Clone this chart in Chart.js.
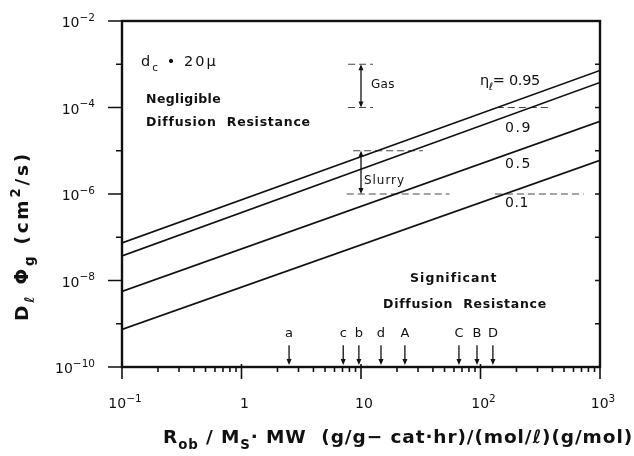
<!DOCTYPE html>
<html>
<head>
<meta charset="utf-8">
<script src="https://cdn.jsdelivr.net/npm/chart.js@4"></script>
<style>
  body { margin: 0; background: #fff; }
</style>
</head>
<body>
<canvas id="chart" width="634" height="456"></canvas>
<script>
// ---- data ----
const xEnds = [0.1, 1000];
const etaLabels = ["0.95", "0.9", "0.5", "0.1"];
const eta095 = [7.4e-8, 7.2e-4];
const eta09 = [3.7e-8, 3.8e-4];
const eta05 = [5.6e-9, 4.8e-5];
const eta01 = [7.4e-10, 6.0e-6];

// catalyst markers on the x axis
const markerLabels = ["a", "c", "b", "d", "A", "C", "B", "D"];
const markerX = [2.5, 7.1, 9.6, 14.7, 23.3, 66, 93.5, 127];

// Gas / Slurry ranges
const bracketLabels = ["Gas", "Slurry"];
const bracketX = [10, 10];
const bracketLow = [1e-4, 1e-6];
const bracketHigh = [1e-3, 1e-5];

// dashed guide lines
const guideY = [1e-3, 1e-4, 1e-4, 1e-5, 1e-6, 1e-6];
const guideFrom = [7.8, 7.8, 137, 8.6, 7.6, 132];
const guideTo = [12.6, 12.6, 380, 33, 55, 730];

// tick labels (^ = superscript)
const xTickValues = [0.1, 1, 10, 100, 1000];
const xTickLabels = ["10^-1", "1", "10", "10^2", "10^3"];
const yTickValues = [1e-2, 1e-4, 1e-6, 1e-8, 1e-10];
const yTickLabels = ["10^-2", "10^-4", "10^-6", "10^-8", "10^-10"];

const ink = "#111";
const FONT = '"DejaVu Sans", sans-serif';

const lines = [eta095, eta09, eta05, eta01].map((vals, i) => ({
    label: "η = " + etaLabels[i],
    data: xEnds.map((x, j) => ({ x: x, y: vals[j] })),
    borderColor: ink,
    borderWidth: 1.6,
    pointRadius: 0,
    tension: 0
}));

const guides = guideY.map((yv, i) => ({
    label: "guide " + i,
    data: [{ x: guideFrom[i], y: yv }, { x: guideTo[i], y: yv }],
    borderColor: "#333",
    borderWidth: 0.9,
    borderDash: [7, 4],
    pointRadius: 0
}));

// rich text: parts = [[text, shift]], shift 0 normal, -1 sub, 1 sup
function partFont(size, weight, s, supScale) {
    return `${weight} ${s ? size * supScale : size}px ${FONT}`;
}
function widthOf(ctx, parts, size, weight, supScale) {
    return parts.reduce((w, [t, s]) => {
        ctx.font = partFont(size, weight, s, supScale);
        return w + ctx.measureText(t).width;
    }, 0);
}
function drawRich(ctx, parts, x, y, size, weight, target, align = "left", supScale = 0.72) {
    ctx.letterSpacing = "0px";
    const n = parts.reduce((c, [t]) => c + t.length, 0);
    const sp = target ? (target - widthOf(ctx, parts, size, weight, supScale)) / n : 0;
    ctx.letterSpacing = sp + "px";
    const w = widthOf(ctx, parts, size, weight, supScale);
    let cx = align === "center" ? x - w / 2 : align === "right" ? x - w : x;
    ctx.textAlign = "left";
    for (const [t, s] of parts) {
        ctx.font = partFont(size, weight, s, supScale);
        const dy = s === -1 ? size * 0.32 : s === 1 ? -size * 0.45 : 0;
        ctx.fillText(t, cx, y + dy);
        cx += ctx.measureText(t).width;
    }
    ctx.letterSpacing = "0px";
}
function tickParts(label) {
    const [base, sup] = label.split("^");
    return sup ? [[base, 0], [sup.replace("-", "−"), 1]] : [[base, 0]];
}

function arrowHead(ctx, px, py, dir) {
    ctx.beginPath();
    ctx.moveTo(px, py);
    ctx.lineTo(px - 2.5, py - dir * 6);
    ctx.lineTo(px + 2.5, py - dir * 6);
    ctx.closePath();
    ctx.fill();
}

const overlay = {
    id: "overlay",
    afterDraw(chart) {
        const { ctx, chartArea: a, scales: { x, y } } = chart;
        ctx.save();
        ctx.strokeStyle = ink;
        ctx.fillStyle = ink;
        ctx.textBaseline = "alphabetic";

        // frame
        ctx.lineWidth = 2.4;
        ctx.strokeRect(a.left, a.top, a.right - a.left, a.bottom - a.top);

        // x ticks
        ctx.lineWidth = 1.6;
        for (let e = -1; e < 3; e++) {
            for (let m = 1; m <= 9; m++) {
                const px = x.getPixelForValue(m * Math.pow(10, e));
                ctx.beginPath();
                ctx.moveTo(px, m === 1 ? a.bottom - 3 : a.bottom);
                ctx.lineTo(px, a.bottom + (m === 1 ? 12 : 5));
                ctx.stroke();
            }
        }
        const pxEnd = x.getPixelForValue(1000);
        ctx.beginPath();
        ctx.moveTo(pxEnd, a.bottom);
        ctx.lineTo(pxEnd, a.bottom + 12);
        ctx.stroke();

        // y ticks (left outward, right inward)
        for (let e = -10; e <= -2; e++) {
            const py = y.getPixelForValue(Math.pow(10, e));
            ctx.beginPath();
            ctx.moveTo(a.left - (e % 2 === 0 ? 14 : 6), py);
            ctx.lineTo(a.left, py);
            ctx.moveTo(a.right - 5, py);
            ctx.lineTo(a.right, py);
            ctx.stroke();
        }

        // tick labels
        xTickValues.forEach((v, i) => {
            drawRich(ctx, tickParts(xTickLabels[i]), x.getPixelForValue(v) + 3, a.bottom + 41,
                14, "normal", 0, "center", 0.75);
        });
        yTickValues.forEach((v, i) => {
            drawRich(ctx, tickParts(yTickLabels[i]), a.left - 27, y.getPixelForValue(v) + 6,
                14, "normal", 0, "right", 0.75);
        });

        // markers on the x axis
        ctx.lineWidth = 1.3;
        markerX.forEach((mx, i) => {
            const px = x.getPixelForValue(mx);
            const top = y.getPixelForValue(3.2e-10);
            ctx.beginPath();
            ctx.moveTo(px, top);
            ctx.lineTo(px, a.bottom - 4);
            ctx.stroke();
            arrowHead(ctx, px, a.bottom - 2, 1);
            drawRich(ctx, [[markerLabels[i], 0]], px, y.getPixelForValue(6.5e-10) + 5,
                13, "normal", 0, "center");
        });

        // Gas / Slurry brackets
        bracketX.forEach((bx, i) => {
            const px = x.getPixelForValue(bx);
            const p1 = y.getPixelForValue(bracketHigh[i]);
            const p2 = y.getPixelForValue(bracketLow[i]);
            ctx.beginPath();
            ctx.moveTo(px, p1 + 2);
            ctx.lineTo(px, p2 - 2);
            ctx.stroke();
            arrowHead(ctx, px, p1, -1);
            arrowHead(ctx, px, p2, 1);
        });

        // texts
        const txt = (parts, xv, yv, w, size = 12.5, weight = "bold") => {
            drawRich(ctx, parts, x.getPixelForValue(xv), y.getPixelForValue(yv) + size * 0.36,
                size, weight, w);
        };
        txt([["d", 0], ["c", -1], [" • 20μ", 0]], 0.144, 1.2e-3, 77, 14.5, "normal");
        txt([["Negligible", 0]], 0.159, 1.6e-4, 75);
        txt([["Diffusion  Resistance", 0]], 0.159, 4.7e-5, 164);
        txt([[bracketLabels[0], 0]], 12.1, 3.5e-4, 24, 12, "normal");
        txt([[bracketLabels[1], 0]], 10.6, 2.1e-6, 41, 12, "normal");
        txt([["η", 0], ["ℓ", -1], ["= 0.95", 0]], 99, 4.3e-4, 60, 14.5, "normal");
        txt([[etaLabels[1], 0]], 160, 3.5e-5, 27, 14, "normal");
        txt([[etaLabels[2], 0]], 160, 5.2e-6, 27, 14, "normal");
        txt([[etaLabels[3], 0]], 160, 6.6e-7, 24, 14, "normal");
        txt([["Significant", 0]], 25.7, 1.2e-8, 87);
        txt([["Diffusion  Resistance", 0]], 15.3, 2.9e-9, 163);

        // axis titles
        drawRich(ctx, [["R", 0], ["ob", -1], [" / M", 0], ["S", -1],
            ["· MW  (g/g− cat·hr)/(mol/ℓ)(g/mol)", 0]],
            163, 443, 18.5, "bold", 470);

        ctx.translate(28, 321);
        ctx.rotate(-Math.PI / 2);
        drawRich(ctx, [["D", 0], ["ℓ", -1], [" Φ", 0], ["g", -1], [" (cm", 0], ["2", 1], ["/s)", 0]],
            0, 0, 18.5, "bold", 170);
        ctx.restore();
    }
};

new Chart(document.getElementById("chart"), {
    type: "line",
    data: { datasets: lines.concat(guides) },
    options: {
        responsive: false,
        animation: false,
        layout: { padding: { top: 21, right: 34, left: 0, bottom: 0 } },
        plugins: {
            legend: { display: false },
            tooltip: { enabled: false }
        },
        scales: {
            x: {
                type: "logarithmic",
                min: 0.1,
                max: 1000,
                grid: { display: false, drawTicks: false },
                border: { display: false },
                ticks: { display: false },
                afterFit: s => { s.height = 89; }
            },
            y: {
                type: "logarithmic",
                min: 1e-10,
                max: 1e-2,
                grid: { display: false, drawTicks: false },
                border: { display: false },
                ticks: { display: false },
                afterFit: s => { s.width = 122; }
            }
        }
    },
    plugins: [overlay]
});
</script>
</body>
</html>
